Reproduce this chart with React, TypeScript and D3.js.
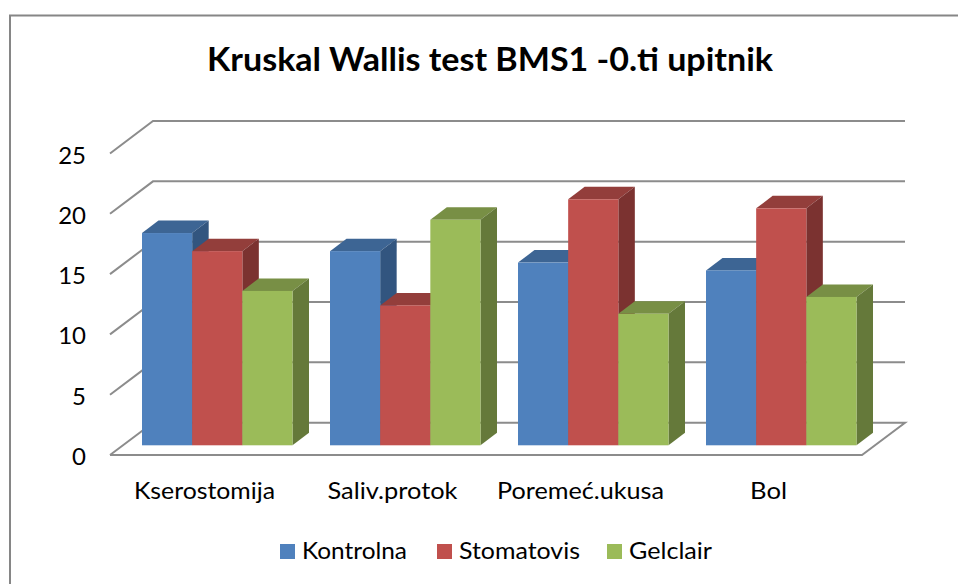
import React from "react";
import * as d3 from "d3";

const categories = ["Kserostomija", "Saliv.protok", "Poremeć.ukusa", "Bol"];
const seriesNames = ["Kontrolna", "Stomatovis", "Gelclair"];
const kontrolna = [17.6, 16.1, 15.15, 14.5];
const stomatovis = [16.1, 11.6, 20.4, 19.65];
const gelclair = [12.8, 18.7, 10.9, 12.3];
const yTicks = [0, 5, 10, 15, 20, 25];
const title = "Kruskal Wallis test BMS1 -0.ti upitnik";

const front = ["#4F81BD", "#C0504D", "#9BBB59"];
const top = ["#3D6594", "#933E3B", "#788F45"];
const side = ["#32557F", "#7B3230", "#65793A"];
const FONT = "Lato, 'Open Sans', sans-serif";
const catWidths = [141, 130, 167, 37];
const legendX = [280, 437, 607];
const legendWidths = [105, 121, 83];

export default function App() {
  const all = [kontrolna, stomatovis, gelclair];
  const yFront = d3.scaleLinear().domain([0, 25]).range([455, 153.5]);
  const yBack = d3.scaleLinear().domain([0, 25]).range([422.7, 121]);
  const yBar = d3.scaleLinear().domain([0, 25]).range([445.3, 143.8]);
  const xCat = d3.scaleBand<string>().domain(categories).range([110, 862]);
  const xSer = d3.scaleBand<string>().domain(seriesNames).range([32, 182.5]);
  const backDx = 43;
  const barDx = 16.5;
  const barDy = 12.5;
  const bw = xSer.bandwidth();

  return (
    <svg width={958} height={584} style={{ position: "absolute", left: 0, top: 0, fontFamily: FONT }}>
      <rect width={958} height={584} fill="#fff" />
      <path d="M10,584V15.5H958" fill="none" stroke="#868686" strokeWidth={2} />
      <text x={490} y={71} textAnchor="middle" fontSize={32} fontWeight={700} fill="#000" textLength={566} lengthAdjust="spacingAndGlyphs">{title}</text>

      {yTicks.map((t) => (
        <g key={t}>
          <polyline
            points={t === 0
              ? `110,${yFront(0)} ${110 + backDx},${yBack(0)} 905,${yBack(0)} 862,${yFront(0)} 110,${yFront(0)}`
              : `110,${yFront(t)} ${110 + backDx},${yBack(t)} 905,${yBack(t)}`}
            fill="none"
            stroke="#8C8C8C"
            strokeWidth={2}
          />
          <text x={86} y={yFront(t) + 10} textAnchor="end" fontSize={24} fill="#000">{t}</text>
        </g>
      ))}

      {categories.map((c, ci) => (
        <g key={c}>
          {seriesNames.map((s, si) => {
            const x0 = xCat(c)! + xSer(s)!;
            const x1 = x0 + bw;
            const y0 = yBar(0);
            const y1 = yBar(all[si][ci]);
            return (
              <g key={s}>
                <path d={`M${x0},${y1}L${x0 + barDx},${y1 - barDy}H${x1 + barDx}L${x1},${y1}Z`} fill={top[si]} />
                <path d={`M${x1},${y1}L${x1 + barDx},${y1 - barDy}V${y0 - barDy}L${x1},${y0}Z`} fill={side[si]} />
                <rect x={x0} y={y1} width={bw} height={y0 - y1} fill={front[si]} />
              </g>
            );
          })}
          <text x={xCat(c)! + 94.5} y={499} textAnchor="middle" fontSize={24} fill="#000" textLength={catWidths[ci]} lengthAdjust="spacingAndGlyphs">{c}</text>
        </g>
      ))}

      {seriesNames.map((s, i) => (
        <g key={s}>
          <rect x={legendX[i]} y={544} width={15} height={15} fill={front[i]} />
          <text x={legendX[i] + 22} y={558.5} fontSize={24} fill="#000" textLength={legendWidths[i]} lengthAdjust="spacingAndGlyphs">{s}</text>
        </g>
      ))}
    </svg>
  );
}
